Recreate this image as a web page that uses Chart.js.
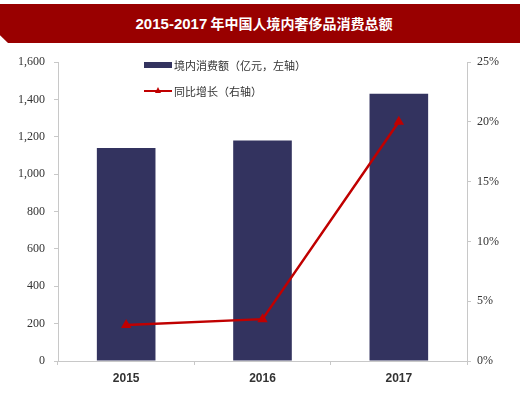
<!DOCTYPE html>
<html>
<head>
<meta charset="utf-8">
<script src="https://cdn.jsdelivr.net/npm/chart.js@4/dist/chart.umd.min.js"></script>
<style>
  html, body { margin: 0; padding: 0; background: #fff; }
  #wrap { position: relative; width: 520px; height: 395px; overflow: hidden; }
  #banner {
    position: absolute; left: 0; top: 4px; width: 520px; height: 39px;
    background: #990000; color: #fff;
    font: bold 14px "Noto Sans CJK SC", sans-serif;
    text-align: center; line-height: 39px; padding-left: 8px; box-sizing: border-box;
    clip-path: polygon(0 0, 100% 0, 100% 100%, 8px 100%, 0 80%);
  }
  #banner .num { font: bold 15px "Liberation Sans Narrow", "Liberation Sans", sans-serif; }
  #chart { position: absolute; left: 0; top: 0; }
  #legend {
    position: absolute; left: 144px; top: 52px;
    font: 11px "Noto Sans CJK SC", sans-serif; color: #333;
  }
  .item { display: flex; align-items: center; height: 26px; }
  .sw { width: 28px; height: 14px; position: relative; margin-right: 2px; }
</style>
</head>
<body>
<div id="wrap">
  <div id="banner"><span class="num">2015-2017</span> 年中国人境内奢侈品消费总额</div>
  <canvas id="chart" width="520" height="395"></canvas>
  <div id="legend"></div>
</div>
<script>
const years = ['2015', '2016', '2017'];
const spending = [1140, 1180, 1430];   // 境内消费额（亿元）
const growth = [3.0, 3.5, 20.0];       // 同比增长（%）
const leftTicks = [0, 200, 400, 600, 800, 1000, 1200, 1400, 1600];
const rightTicks = [0, 5, 10, 15, 20, 25];

const barColor = '#33335f';
const lineColor = '#c00000';
const axisColor = '#c8c8c8';

document.addEventListener('DOMContentLoaded', function() {
    const ctx = document.getElementById('chart').getContext('2d');

    const chart = new Chart(ctx, {
        data: {
            labels: years,
            datasets: [
                {
                    type: 'line',
                    label: '同比增长（右轴）',
                    data: growth,
                    yAxisID: 'y1',
                    borderColor: lineColor,
                    backgroundColor: lineColor,
                    borderWidth: 2.5,
                    pointStyle: 'triangle',
                    pointRadius: 3.5,
                    tension: 0,
                    order: 0
                },
                {
                    type: 'bar',
                    label: '境内消费额（亿元，左轴）',
                    data: spending,
                    yAxisID: 'y',
                    backgroundColor: barColor,
                    categoryPercentage: 1,
                    barPercentage: 0.43,
                    order: 1
                }
            ]
        },
        options: {
            responsive: false,
            animation: false,
            devicePixelRatio: 1,
            layout: { padding: { top: 62, left: 0, right: 0, bottom: 0 } },
            plugins: {
                legend: { display: false },
                tooltip: { enabled: false }
            },
            scales: {
                x: {
                    grid: { drawOnChartArea: false, tickLength: 4, color: axisColor, offset: true },
                    border: { color: axisColor },
                    ticks: {
                        color: '#333',
                        padding: 6,
                        font: { family: '"Liberation Sans Narrow", "Liberation Sans", sans-serif', size: 12, weight: 'bold' }
                    },
                    afterFit: s => { s.height = 34; }
                },
                y: {
                    position: 'left',
                    min: 0,
                    max: 1600,
                    afterBuildTicks: s => { s.ticks = leftTicks.map(v => ({ value: v })); },
                    grid: { drawOnChartArea: false, tickLength: 4, color: axisColor },
                    border: { color: axisColor },
                    ticks: {
                        color: '#333',
                        padding: 9,
                        font: { family: '"Liberation Serif", serif', size: 12 },
                        callback: v => v.toLocaleString('en-US')
                    },
                    afterFit: s => { s.width = 58; }
                },
                y1: {
                    position: 'right',
                    min: 0,
                    max: 25,
                    afterBuildTicks: s => { s.ticks = rightTicks.map(v => ({ value: v })); },
                    grid: { drawOnChartArea: false, tickLength: 4, color: axisColor },
                    border: { color: axisColor },
                    ticks: {
                        color: '#333',
                        padding: 6,
                        font: { family: '"Liberation Serif", serif', size: 12 },
                        callback: v => v + '%'
                    },
                    afterFit: s => { s.width = 53; }
                }
            }
        }
    });

    // legend drawn as html, bar first then line
    const legend = document.getElementById('legend');
    [chart.data.datasets[1], chart.data.datasets[0]].forEach(ds => {
        const item = document.createElement('div');
        item.className = 'item';
        let swatch;
        if (ds.type === 'bar') {
            swatch = `<div class="sw"><div style="position:absolute;left:0;top:4px;width:28px;height:6px;background:${ds.backgroundColor}"></div></div>`;
        } else {
            swatch = `<div class="sw"><div style="position:absolute;left:0;top:6px;width:28px;height:2px;background:${ds.borderColor}"></div>` +
                `<div style="position:absolute;left:11px;top:3px;width:0;height:0;border-left:3px solid transparent;border-right:3px solid transparent;border-bottom:6px solid ${ds.borderColor}"></div></div>`;
        }
        item.innerHTML = swatch + `<span>${ds.label}</span>`;
        legend.appendChild(item);
    });
});
</script>
</body>
</html>
